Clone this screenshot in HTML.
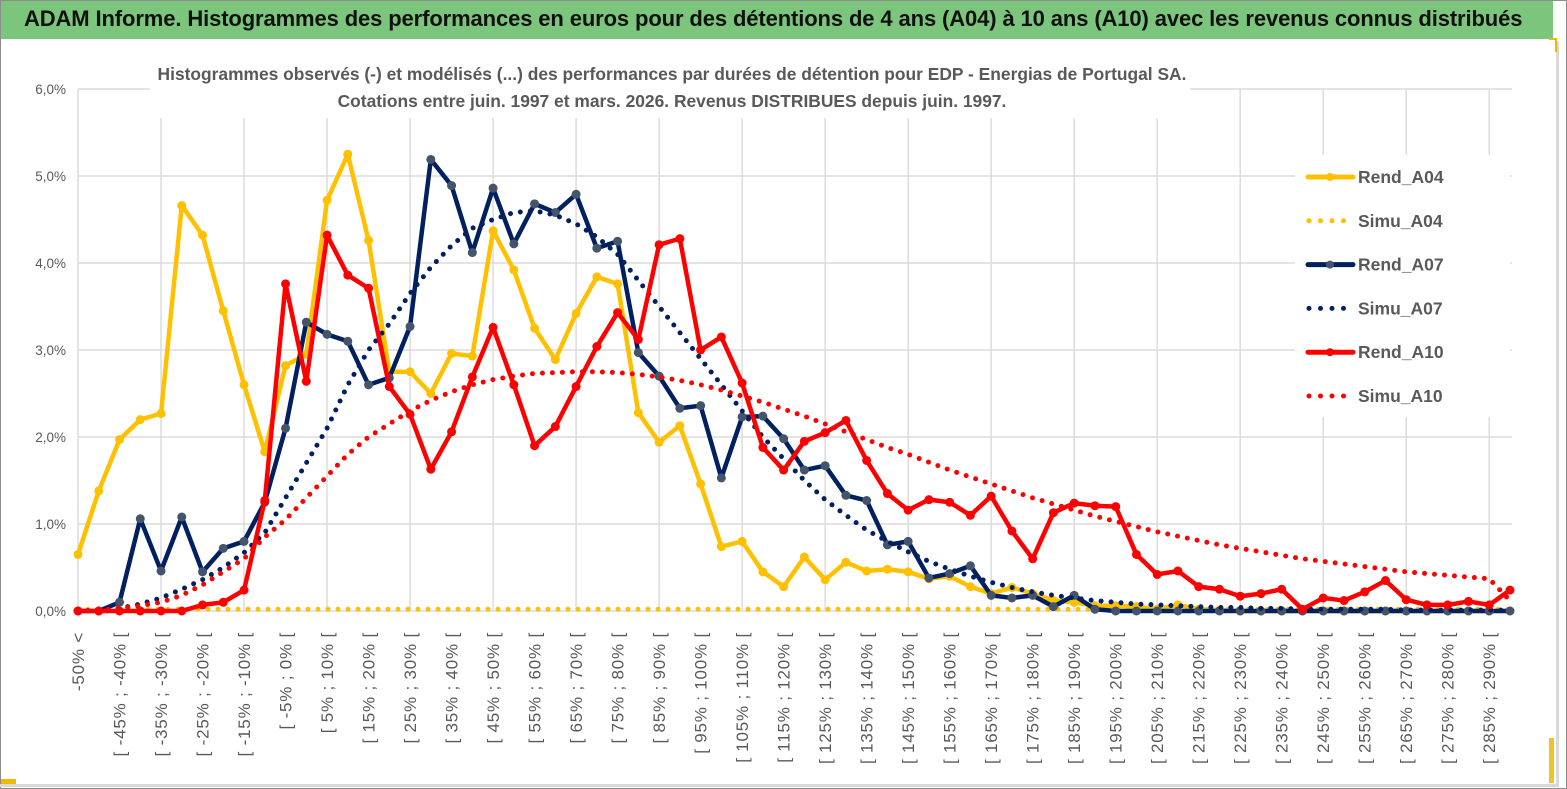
<!DOCTYPE html>
<html><head><meta charset="utf-8">
<style>
html,body{margin:0;padding:0;background:#fff;}
body{width:1567px;height:789px;position:relative;overflow:hidden;font-family:"Liberation Sans",sans-serif;}
#frame{position:absolute;left:0;top:0;width:1565px;height:787px;border:1px solid #8c8c8c;}
#header{position:absolute;left:1px;top:1px;width:1552px;height:38px;background:#7cc57c;border-bottom:2px solid #fff;}
#header span{position:absolute;left:23px;top:5px;font-size:22px;font-weight:bold;color:#111;white-space:nowrap;letter-spacing:-0.12px;}
#chartbox{position:absolute;left:0;top:41px;width:1556px;height:743px;border-right:3px solid #d9d9d9;border-bottom:3px solid #d9d9d9;}
svg{position:absolute;left:0;top:0;}
</style></head>
<body>
<div id="frame"></div>
<div id="header"><span>ADAM Informe. Histogrammes des performances en euros pour des détentions de 4 ans (A04) à 10 ans (A10) avec les revenus connus distribués</span></div>
<div id="chartbox"></div>
<div style="position:absolute;left:1549px;top:38px;width:6px;height:12px;border-top:2px solid #f2b800;border-right:2px solid #f2b800;"></div>
<div style="position:absolute;left:1549px;top:738px;width:5px;height:45px;background:#f2c22a;"></div>
<div style="position:absolute;left:1px;top:779px;width:15px;height:5px;background:#f2b800;"></div>
<svg id="chart" width="1567" height="789"></svg>
<script>
const categories=[];
categories.push("-50% <");
for(let i=1;i<70;i++){const a=-55+5*i;categories.push("[ "+a+"% ; "+(a+5)+"% [");}
const rendA04=[0.65,1.38,1.97,2.2,2.27,4.66,4.32,3.45,2.6,1.83,2.82,2.95,4.72,5.25,4.26,2.75,2.75,2.5,2.96,2.93,4.37,3.92,3.25,2.89,3.42,3.84,3.76,2.28,1.94,2.13,1.46,0.74,0.8,0.45,0.28,0.62,0.36,0.56,0.46,0.48,0.45,0.37,0.4,0.28,0.2,0.27,0.2,0.12,0.1,0.06,0.06,0.05,0.02,0.07,0.02,0.01,0,0,0,0,0,0,0,0,0,0,0,0,0,0];
const simuA04=[0.02,0.02,0.02,0.02,0.02,0.02,0.02,0.02,0.02,0.02,0.02,0.02,0.02,0.02,0.02,0.02,0.02,0.02,0.02,0.02,0.02,0.02,0.02,0.02,0.02,0.02,0.02,0.02,0.02,0.02,0.02,0.02,0.02,0.02,0.02,0.02,0.02,0.02,0.02,0.02,0.02,0.02,0.02,0.02,0.02,0.02,0.02,0.02,0.02,0.02,0.02,0.02,0.02,0.02,0.02,0.02,0.02,0.02,0.02,0.02,0.02,0.02,0.02,0.02,0.02,0.02,0.02,0.02,0.02,0.02];
const rendA07=[0,0,0.1,1.06,0.46,1.08,0.45,0.72,0.8,1.25,2.1,3.32,3.18,3.1,2.6,2.68,3.27,5.19,4.89,4.12,4.86,4.22,4.68,4.58,4.79,4.17,4.25,2.97,2.7,2.33,2.36,1.53,2.23,2.24,1.98,1.62,1.67,1.33,1.27,0.76,0.8,0.38,0.43,0.52,0.18,0.15,0.18,0.05,0.18,0.02,0,0,0,0,0,0,0,0,0,0,0,0,0,0,0,0,0,0,0,0];
const simuA07=[0,0.01,0.03,0.08,0.15,0.25,0.36,0.5,0.67,0.9,1.3,1.7,2.1,2.6,3.0,3.3,3.65,3.95,4.2,4.4,4.5,4.58,4.6,4.55,4.45,4.3,4.1,3.8,3.5,3.2,2.9,2.6,2.3,2.0,1.75,1.5,1.28,1.1,0.93,0.8,0.68,0.57,0.48,0.4,0.33,0.27,0.22,0.18,0.15,0.12,0.1,0.08,0.07,0.06,0.05,0.04,0.04,0.03,0.03,0.02,0.02,0.02,0.02,0.02,0.01,0.01,0.01,0.01,0.01,0.01];
const rendA10=[0,0,0,0,0,0,0.07,0.1,0.24,1.27,3.76,2.64,4.32,3.86,3.71,2.58,2.26,1.63,2.06,2.69,3.26,2.6,1.9,2.12,2.58,3.04,3.43,3.12,4.21,4.28,3.0,3.15,2.62,1.88,1.62,1.95,2.05,2.19,1.73,1.35,1.16,1.28,1.25,1.1,1.32,0.92,0.6,1.13,1.24,1.21,1.2,0.65,0.42,0.46,0.28,0.25,0.17,0.2,0.25,0.02,0.15,0.12,0.22,0.35,0.13,0.07,0.07,0.11,0.07,0.24];
const simuA10=[0,0.01,0.03,0.06,0.1,0.18,0.3,0.45,0.6,0.85,1.05,1.3,1.55,1.8,2.0,2.15,2.3,2.42,2.52,2.6,2.66,2.7,2.73,2.74,2.75,2.75,2.74,2.72,2.69,2.65,2.6,2.54,2.47,2.4,2.32,2.24,2.15,2.06,1.97,1.88,1.8,1.71,1.62,1.54,1.46,1.38,1.3,1.23,1.16,1.09,1.03,0.97,0.91,0.86,0.81,0.76,0.72,0.68,0.64,0.6,0.57,0.54,0.51,0.48,0.45,0.43,0.41,0.39,0.37,0.12];
const yTicks=[0,1,2,3,4,5,6];
const yTickLabels=["0,0%","1,0%","2,0%","3,0%","4,0%","5,0%","6,0%"];

const NS="http://www.w3.org/2000/svg";
const svg=document.getElementById('chart');
const X0=78,DX=(1510-78)/69,Y0=611,DY=87;
function xs(i){return X0+DX*i;}
function ys(v){return Y0-v*DY;}
function mk(tag,attrs,parent){const e=document.createElementNS(NS,tag);for(const k in attrs)e.setAttribute(k,attrs[k]);(parent||svg).appendChild(e);return e;}

const grid=mk('g',{});


yTicks.forEach((t,k)=>{
  mk('line',{x1:X0,x2:1512,y1:ys(t),y2:ys(t),stroke:'#dcdcdc','stroke-width':1.5},grid);
  const tx=mk('text',{x:66,y:ys(t)+5,'text-anchor':'end','font-size':13.5,fill:'#595959'});
  tx.textContent=yTickLabels[k];
  
  
});
for(let i=0;i<categories.length;i+=4){
  mk('line',{x1:xs(i),x2:xs(i),y1:ys(6),y2:Y0,stroke:'#dcdcdc','stroke-width':1.5},grid);
}
categories.forEach((c,i)=>{
  if(i%2) return;
  const x=xs(i)+6,y=632;
  const tx=mk('text',{x:x,y:y,transform:`rotate(-90 ${x} ${y})`,'text-anchor':'end','font-size':17,'letter-spacing':'0.8',fill:'#595959'});
  tx.textContent=c;
  
  
});

const tb=mk('rect',{x:150,y:58,width:1040,height:60,fill:'#fff'});


const lb=mk('rect',{x:1295,y:155,width:215,height:262,fill:'#fff'});



const t1=mk('text',{x:672,y:80,'text-anchor':'middle','font-size':17.4,'font-weight':'bold',fill:'#595959'});
t1.textContent="Histogrammes observés (-) et modélisés (...) des performances par durées de détention pour EDP - Energias de Portugal SA.";


const t2=mk('text',{x:672,y:107,'text-anchor':'middle','font-size':17.4,'font-weight':'bold',fill:'#595959'});
t2.textContent="Cotations entre juin. 1997 et mars. 2026. Revenus DISTRIBUES depuis juin. 1997.";



function dotted(data,color,name){
  const pts=data.map((v,i)=>xs(i)+','+ys(v)).join(' ');
  const p=mk('polyline',{points:pts,fill:'none',stroke:color,'stroke-width':5,'stroke-linecap':'round','stroke-dasharray':'0 10'});
  
  
}
function solid(data,color,mcolor,name){
  const g=mk('g',{});
  
  
  const pts=data.map((v,i)=>xs(i)+','+ys(v)).join(' ');
  mk('polyline',{points:pts,fill:'none',stroke:color,'stroke-width':4.5,'stroke-linejoin':'round'},g);
  data.forEach((v,i)=>{
    const c=mk('circle',{cx:xs(i),cy:ys(v),r:4.5,fill:mcolor},g);
    
    
  });
}
solid(rendA04,'#ffc000','#ffc000','series-rend-a04');
dotted(simuA04,'#ffc000','series-simu-a04');
solid(rendA07,'#002060','#44546a','series-rend-a07');
dotted(simuA07,'#002060','series-simu-a07');
solid(rendA10,'#ff0000','#ff0000','series-rend-a10');
dotted(simuA10,'#ff0000','series-simu-a10');

const legend=[["Rend_A04",'#ffc000','#ffc000',false],["Simu_A04",'#ffc000',null,true],["Rend_A07",'#002060','#44546a',false],["Simu_A07",'#002060',null,true],["Rend_A10",'#ff0000','#ff0000',false],["Simu_A10",'#ff0000',null,true]];
legend.forEach((l,k)=>{
  const y=177+k*43.8;
  const g=mk('g',{});
  
  
  if(l[3]){
    mk('line',{x1:1309,x2:1344,y1:y,y2:y,stroke:l[1],'stroke-width':5,'stroke-linecap':'round','stroke-dasharray':'0 11.5'},g);
  }else{
    mk('line',{x1:1308,x2:1353,y1:y,y2:y,stroke:l[1],'stroke-width':5,'stroke-linecap':'round'},g);
    mk('circle',{cx:1330,cy:y,r:4,fill:l[2]},g);
  }
  const tx=mk('text',{x:1358,y:y+6,'font-size':17.5,'font-weight':'bold',fill:'#595959'},g);
  tx.textContent=l[0];
});
</script>
</body></html>
